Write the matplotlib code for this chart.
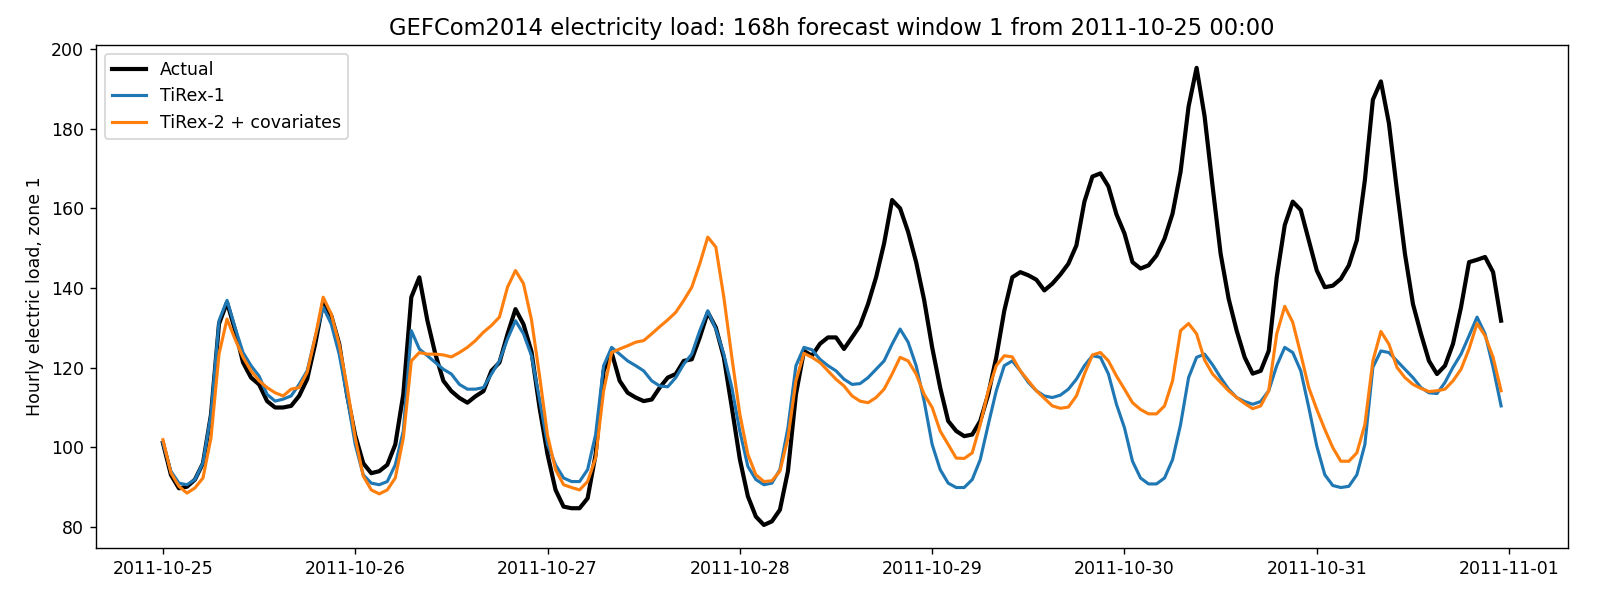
import pandas as pd
import matplotlib.pyplot as plt

# hourly values, 168h window starting 2011-10-25 00:00
start = "2011-10-25 00:00"
n_hours = 168

actual = [
    101.1, 93.1, 89.7, 90.1, 91.9, 96.0, 108.2, 131.0, 136.4, 129.5, 121.3, 117.5,
    115.8, 111.6, 110.0, 110.0, 110.4, 112.9, 117.1, 125.9, 136.4, 133.1, 126.0, 113.0,
    103.0, 96.0, 93.5, 94.0, 95.6, 100.7, 113.3, 137.7, 142.7, 131.9, 123.4, 116.7,
    114.1, 112.4, 111.2, 112.8, 114.1, 119.2, 121.3, 128.4, 134.7, 130.9, 124.0, 110.0,
    98.2, 89.3, 85.1, 84.7, 84.7, 87.2, 98.2, 119.2, 123.8, 116.7, 113.7, 112.5,
    111.6, 112.0, 115.0, 117.5, 118.4, 121.7, 122.1, 127.6, 133.9, 130.1, 122.6, 110.0,
    97.0, 87.7, 82.6, 80.5, 81.4, 84.3, 94.0, 113.3, 124.2, 123.0, 126.0, 127.6,
    127.6, 124.7, 127.6, 130.6, 136.0, 142.7, 151.2, 162.1, 160.0, 154.1, 146.5, 137.0,
    125.1, 115.0, 106.6, 104.1, 102.8, 103.2, 106.6, 113.3, 122.6, 134.3, 142.7, 144.0,
    143.2, 142.1, 139.4, 141.1, 143.4, 146.1, 150.7, 161.7, 168.0, 168.8, 165.5, 158.5,
    153.7, 146.5, 144.9, 145.7, 148.2, 152.4, 158.7, 169.2, 185.6, 195.3, 183.1, 165.5,
    148.6, 137.3, 129.3, 122.6, 118.5, 119.2, 124.2, 142.7, 155.8, 161.7, 159.6, 152.0,
    144.4, 140.2, 140.6, 142.3, 145.7, 152.0, 167.1, 187.3, 191.9, 181.4, 164.6, 148.6,
    136.0, 128.5, 121.7, 118.4, 120.5, 126.0, 135.2, 146.5, 147.1, 147.8, 144.0, 131.8,
]

tirex1 = [
    101.1, 94.0, 91.0, 90.6, 91.9, 96.1, 108.3, 131.8, 136.9, 130.1, 123.8, 120.5,
    117.9, 113.3, 111.6, 112.1, 112.9, 115.8, 119.2, 127.6, 135.2, 131.0, 123.4, 112.5,
    100.7, 93.1, 91.0, 90.6, 91.4, 95.6, 104.1, 129.3, 124.7, 123.0, 121.3, 119.6,
    118.4, 115.8, 114.6, 114.6, 115.0, 118.4, 121.7, 127.2, 131.8, 128.5, 123.0, 112.0,
    100.7, 95.6, 92.3, 91.4, 91.4, 94.4, 103.2, 120.5, 125.1, 123.4, 121.7, 120.5,
    119.2, 116.7, 115.4, 115.2, 117.5, 120.9, 123.4, 129.3, 134.3, 129.7, 123.4, 115.0,
    104.0, 95.2, 91.9, 90.6, 91.0, 94.4, 104.9, 120.5, 125.1, 124.5, 122.1, 120.5,
    119.2, 117.1, 115.8, 116.0, 117.5, 119.6, 121.7, 125.9, 129.7, 126.4, 120.5, 111.6,
    100.7, 94.4, 91.0, 89.9, 89.9, 91.9, 96.9, 105.7, 114.2, 120.5, 121.7, 119.2,
    116.3, 114.2, 112.9, 112.5, 113.1, 114.6, 117.1, 120.5, 123.0, 122.6, 118.4, 110.8,
    104.9, 96.5, 92.3, 90.8, 90.8, 92.3, 96.9, 105.7, 117.5, 122.6, 123.4, 120.7,
    117.5, 114.6, 112.5, 111.5, 110.8, 111.5, 114.2, 120.5, 125.1, 123.8, 119.2, 110.0,
    100.3, 93.1, 90.4, 89.9, 90.2, 93.1, 100.7, 120.1, 124.2, 123.8, 121.7, 119.6,
    117.5, 115.0, 113.7, 113.5, 116.3, 120.1, 123.4, 128.0, 132.7, 128.5, 120.1, 110.4,
]

tirex2_cov = [
    101.9, 93.6, 90.2, 88.5, 89.8, 92.3, 102.4, 123.4, 132.2, 127.2, 122.6, 119.2,
    116.7, 115.0, 113.7, 112.9, 114.6, 115.0, 118.8, 127.6, 137.7, 133.5, 125.9, 115.0,
    102.4, 92.8, 89.3, 88.3, 89.3, 92.3, 102.3, 121.7, 123.8, 123.4, 123.4, 123.2,
    122.7, 123.8, 125.1, 126.8, 128.9, 130.6, 132.7, 140.2, 144.4, 141.1, 132.0, 118.0,
    103.0, 94.4, 90.6, 89.9, 89.3, 91.4, 97.3, 114.2, 123.8, 124.7, 125.5, 126.4,
    126.8, 128.5, 130.3, 132.0, 133.9, 136.9, 140.2, 146.1, 152.8, 150.3, 137.7, 122.6,
    108.3, 98.2, 93.1, 91.4, 91.6, 94.0, 102.3, 116.7, 123.6, 122.6, 121.3, 119.2,
    117.1, 115.4, 112.9, 111.6, 111.2, 112.5, 114.6, 118.4, 122.6, 121.7, 118.4, 113.3,
    110.0, 104.1, 100.7, 97.3, 97.2, 98.6, 105.7, 114.2, 120.5, 123.0, 122.7, 119.2,
    116.7, 114.2, 112.3, 110.4, 109.8, 110.1, 112.9, 118.4, 123.2, 123.8, 121.7, 117.9,
    114.6, 111.2, 109.5, 108.4, 108.4, 110.4, 116.7, 129.3, 131.1, 128.5, 121.9, 118.4,
    116.3, 114.2, 112.5, 111.0, 109.7, 110.4, 114.2, 128.5, 135.4, 131.4, 123.4, 115.0,
    109.5, 104.5, 99.9, 96.5, 96.5, 98.6, 105.7, 121.7, 129.1, 125.9, 120.1, 117.5,
    115.8, 114.8, 114.0, 114.2, 114.6, 116.7, 119.6, 124.7, 131.1, 128.0, 122.6, 114.2,
]


def main():
    idx = pd.date_range(start, periods=n_hours, freq="h")

    fig, ax = plt.subplots(figsize=(12.8, 4.8), dpi=125)
    ax.plot(idx, actual, color="black", linewidth=2.4, label="Actual")
    ax.plot(idx, tirex1, color="tab:blue", linewidth=1.8, label="TiRex-1")
    ax.plot(idx, tirex2_cov, color="tab:orange", linewidth=1.8, label="TiRex-2 + covariates")

    ax.set_title("GEFCom2014 electricity load: 168h forecast window 1 from 2011-10-25 00:00",
                 fontsize=13)
    ax.set_ylabel("Hourly electric load, zone 1")
    ax.legend(loc="upper left")

    fig.subplots_adjust(left=0.06, right=0.98, top=0.925, bottom=0.087)
    fig.savefig("out.png", dpi=125)
    plt.close(fig)


if __name__ == "__main__":
    main()
